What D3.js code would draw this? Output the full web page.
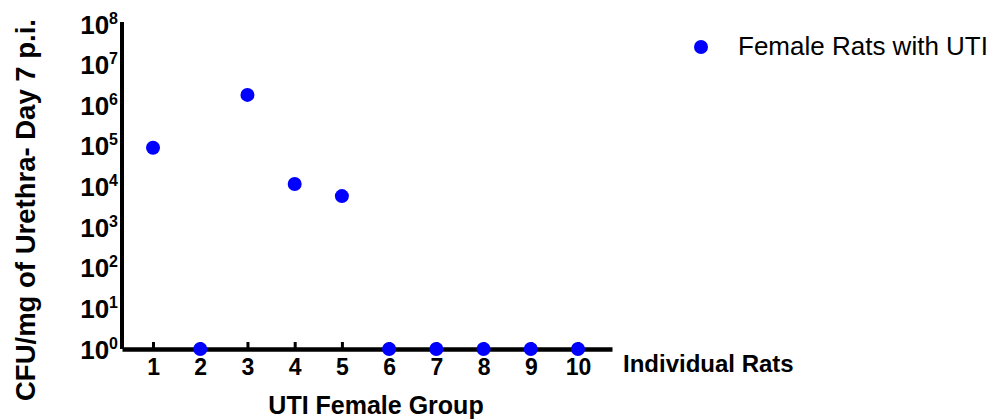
<!DOCTYPE html>
<html>
<head>
<meta charset="utf-8">
<script src="https://cdn.jsdelivr.net/npm/d3@7"></script>
<style>
  body { margin: 0; background: #fff; }
  text { font-family: "Liberation Sans", Arial, sans-serif; }
</style>
</head>
<body>
<div id="container"></div>
<script>
let w = 988;
let h = 419;

// data
let rats = [1, 2, 3, 4, 5, 6, 7, 8, 9, 10];
let cfu = [90000, 1, 1800000, 11500, 5800, 1, 1, 1, 1, 1];
let yTicks = [0, 1, 2, 3, 4, 5, 6, 7, 8]; // exponents of 10
let seriesName = "Female Rats with UTI";

let viz = d3.select("#container")
  .append("svg")
    .attr("width", w)
    .attr("height", h)
    .style("background-color", "white")
;

let xScale = d3.scaleLinear().domain([0.343, 10.72]).range([122, 612]);
let yScale = d3.scaleLog().domain([1, 1e8]).range([349, 24]);

// x axis, ticks pointing up into the plot
let xAxis = d3.axisBottom(xScale)
  .tickValues(rats)
  .tickSizeInner(-7)
  .tickSizeOuter(0)
  .tickPadding(10)
  .tickFormat(d3.format("d"));
let xAxisGroup = viz.append("g").attr("class", "xaxis")
  .attr("transform", "translate(0," + yScale(1) + ")")
  .call(xAxis);
xAxisGroup.select(".domain").attr("stroke-width", 4.5).attr("stroke", "black");
xAxisGroup.selectAll(".tick line").attr("stroke-width", 3).attr("stroke", "black");
xAxisGroup.selectAll(".tick text")
  .attr("font-size", 23)
  .attr("font-weight", "bold")
  .attr("fill", "black")
  .attr("font-family", "Liberation Sans, Arial, sans-serif");

// y axis, no tick marks, labels as 10^n
let yAxis = d3.axisLeft(yScale)
  .tickValues(yTicks.map(function(e){ return Math.pow(10, e); }))
  .tickSize(0)
  .tickPadding(0)
  .tickFormat("");
let yAxisGroup = viz.append("g").attr("class", "yaxis")
  .attr("transform", "translate(122,0)")
  .call(yAxis);
yAxisGroup.select(".domain")
  .attr("stroke-width", 4)
  .attr("stroke", "black")
  .attr("d", "M0," + (yScale(1e8) - 2) + "V" + yScale(1));

yAxisGroup.selectAll(".tick").each(function(d){
  let t = d3.select(this).append("text")
    .attr("x", -4)
    .attr("y", 9)
    .attr("text-anchor", "end")
    .attr("fill", "black")
    .attr("font-weight", "bold")
    .attr("font-family", "Liberation Sans, Arial, sans-serif");
  t.append("tspan").attr("font-size", 26).text("10");
  t.append("tspan").attr("font-size", 16).attr("dy", -10).text(Math.round(Math.log10(d)));
});

// points
viz.append("g").selectAll("circle")
  .data(rats)
  .enter()
  .append("circle")
    .attr("cx", function(d){ return xScale(d); })
    .attr("cy", function(d, i){ return yScale(cfu[i]); })
    .attr("r", 7)
    .attr("fill", "#0000ff")
;

// axis titles
viz.append("text")
  .attr("x", 376)
  .attr("y", 414)
  .attr("text-anchor", "middle")
  .attr("font-size", 25)
  .attr("font-weight", "bold")
  .attr("fill", "black")
  .text("UTI Female Group");

viz.append("text")
  .attr("transform", "translate(35,210) rotate(-90)")
  .attr("text-anchor", "middle")
  .attr("font-size", 27.5)
  .attr("font-weight", "bold")
  .attr("fill", "black")
  .text("CFU/mg of Urethra- Day 7 p.i.");

viz.append("text")
  .attr("x", 623)
  .attr("y", 372)
  .attr("font-size", 24)
  .attr("font-weight", "bold")
  .attr("fill", "black")
  .text("Individual Rats");

// legend
viz.append("circle")
  .attr("cx", 701)
  .attr("cy", 47)
  .attr("r", 7)
  .attr("fill", "#0000ff");
viz.append("text")
  .attr("x", 738)
  .attr("y", 55)
  .attr("font-size", 26)
  .attr("fill", "black")
  .text(seriesName);
</script>
</body>
</html>
